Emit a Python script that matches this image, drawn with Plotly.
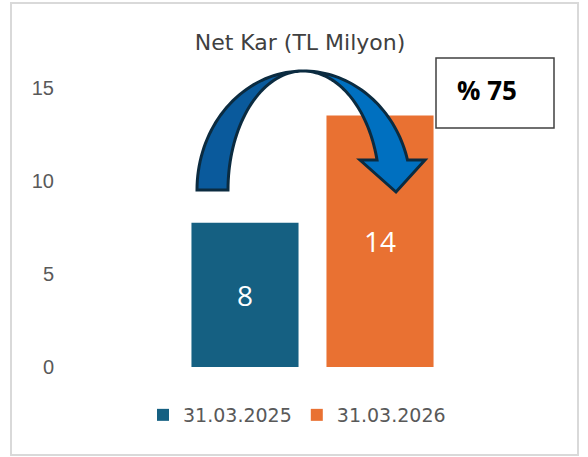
import numpy as np
import plotly.graph_objects as go

# ---- data ----
categories = [""]
series_names = ["31.03.2025", "31.03.2026"]
series_values = [[7.75], [13.5]]
series_colors = ["#156082", "#E97132"]
y_ticks = [0, 5, 10, 15]
title_text = "Net Kar (TL Milyon)"
change_text = "% 75"

W, H = 588, 457
L, R, T, B = 65, 28, 69, 90  # plot area margins (px)
pw, ph = W - L - R, H - T - B

fig = go.Figure()
for name, vals, col in zip(series_names, series_values, series_colors):
    fig.add_trace(go.Bar(
        x=categories, y=vals, name=name, marker=dict(color=col, line=dict(width=0)),
        text=[f"{v:.0f}" for v in vals], textposition="inside",
        insidetextanchor="middle",
        textfont=dict(color="white", size=28, family="Open Sans"),
        hoverinfo="skip",
    ))

def px2paper(xs, ys):
    return [(x - L) / pw for x in xs], [(H - B - y) / ph for y in ys]

def path_from(xs, ys):
    px_, py_ = px2paper(xs, ys)
    return "M " + " L ".join(f"{a:.5f},{b:.5f}" for a, b in zip(px_, py_)) + " Z"

cx, cy = 303, 190
outline = "#0B2B40"
# left crescent
t = np.linspace(np.pi, np.pi / 2, 40)
ox = cx + 106 * np.cos(t); oy = cy - 119 * np.sin(t)
t2 = np.linspace(np.pi / 2, np.pi, 40)
ix = cx + 75 * np.cos(t2); iy = cy - 119 * np.sin(t2)
fig.add_shape(type="path", xref="paper", yref="paper",
              path=path_from(list(ox) + list(ix), list(oy) + list(iy)),
              fillcolor="#0A5A9C", line=dict(color=outline, width=3), layer="above")
# right crescent + arrow head
yb = 160
ang_o = np.arcsin((cy - yb) / 119)
ang = np.linspace(np.pi / 2, ang_o, 40)
rox = cx + 108 * np.cos(ang); roy = cy - 119 * np.sin(ang)
angi = np.linspace(ang_o, np.pi / 2, 40)
rix = cx + 76.5 * np.cos(angi); riy = cy - 119 * np.sin(angi)
xs = list(rox) + [425, 396, 360] + list(rix)
ys = list(roy) + [yb, 192, yb] + list(riy)
fig.add_shape(type="path", xref="paper", yref="paper",
              path=path_from(xs, ys),
              fillcolor="#0070C0", line=dict(color=outline, width=3), layer="above")

# % box
bx, by = px2paper([436, 554], [58, 128])
fig.add_shape(type="rect", xref="paper", yref="paper", x0=bx[0], x1=bx[1], y0=by[1], y1=by[0],
              fillcolor="white", line=dict(color="#404040", width=1.5), layer="above")
tx, ty = px2paper([487], [90])
fig.add_annotation(xref="paper", yref="paper", x=tx[0], y=ty[0], xanchor="center", yanchor="middle",
                   text=f"<b>{change_text}</b>",
                   showarrow=False, font=dict(size=26, color="black", family="Open Sans"))

# outer border
fig.add_shape(type="rect", xref="paper", yref="paper",
              x0=(11 - L) / pw, x1=(578 - L) / pw, y0=(H - B - 455) / ph, y1=(H - B - 3) / ph,
              line=dict(color="#D9D9D9", width=2), fillcolor="rgba(0,0,0,0)", layer="below")

fig.update_layout(
    width=W, height=H, margin=dict(l=L, r=R, t=T, b=B),
    paper_bgcolor="white", plot_bgcolor="white",
    barmode="group", bargap=0.4545, bargroupgap=0.207,
    title=dict(text=title_text, x=300 / W, xanchor="center", y=1 - 42 / H, yanchor="middle",
               font=dict(size=22, color="#404040", family="DejaVu Sans")),
    showlegend=True,
    legend=dict(orientation="h", x=(297 - L) / pw, xanchor="center", y=(H - B - 415) / ph, yanchor="middle",
                font=dict(size=19, color="#595959", family="DejaVu Sans"), itemwidth=30,
                traceorder="normal"),
    xaxis=dict(showticklabels=False, showline=False, showgrid=False, zeroline=False),
    yaxis=dict(range=[0, 16], tickvals=y_ticks, showgrid=False, zeroline=False, showline=False,
               tickfont=dict(size=20, color="#595959", family="Liberation Sans"), ticks="",
               ticklabelstandoff=10),
)
fig.write_html("out.html", config={"displayModeBar": False},
               post_script="document.body.style.margin='0';")
